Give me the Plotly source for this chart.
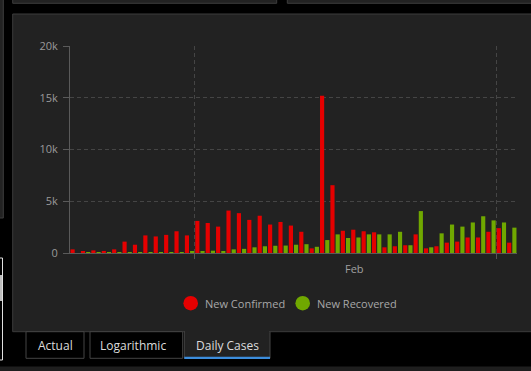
import pandas as pd
import plotly.graph_objects as go

# ---------------- data ----------------
start_date = "2020-01-20"
n_days = 43
series_names = ["New Confirmed", "New Recovered"]
new_confirmed = [350, 150, 250, 200, 350, 1100, 800, 1700, 1600, 1750, 2100, 1700,
                 3100, 2900, 2550, 4100, 3850, 3200, 3600, 2750, 3000, 2650, 2050, 450,
                 15200, 6550, 2150, 2250, 2100, 2000, 550, 650, 750, 1800, 450, 650,
                 1000, 1100, 1500, 1500, 2050, 2400, 1000]
new_recovered = [0, 10, 10, 5, 10, 10, 30, 40, 50, 60, 60, 120,
                 130, 220, 150, 350, 400, 550, 650, 700, 720, 800, 850, 600,
                 1250, 1800, 1450, 1500, 1800, 1800, 1800, 2050, 750, 4050, 550, 1900,
                 2750, 2550, 2950, 3550, 3150, 2950, 2450]
y_tickvals = [0, 5000, 10000, 15000, 20000]
y_ticktext = ["0", "5k", "10k", "15k", "20k"]
x_gridvals = ["2020-02-01", "2020-03-01"]
month_label = "Feb"
month_label_pos = "2020-02-16 08:00"
tab_labels = ["Actual", "Logarithmic", "Daily Cases"]

dates = pd.date_range(start_date, periods=n_days, freq="D") + pd.Timedelta(hours=12)
x_end = (pd.Timestamp(start_date) + pd.Timedelta(days=n_days)).strftime("%Y-%m-%d")

# ---------------- geometry helpers ----------------
W, H = 531, 371
L, R, T, B = 70, 14, 46, 118
PW, PH = W - L - R, H - T - B


def px(x):
    return (x - L) / PW


def py(y):
    return (H - B - y) / PH


RED = "#e60000"
GREEN = "#70a800"
PANEL = "#222222"
BORDER = "#3c3c3c"
FONT = "Open Sans, Noto Sans, sans-serif"

fig = go.Figure()
fig.add_trace(go.Bar(x=dates, y=new_confirmed, name=series_names[0],
                     marker=dict(color=RED, line=dict(width=0))))
fig.add_trace(go.Bar(x=dates, y=new_recovered, name=series_names[1],
                     marker=dict(color=GREEN, line=dict(width=0))))

shapes = []


def rect(x0, y0, x1, y1, fill, line=None, lw=1):
    shapes.append(dict(type="rect", xref="paper", yref="paper", layer="below",
                       x0=px(x0), x1=px(x1), y0=py(y1), y1=py(y0),
                       fillcolor=fill,
                       line=dict(color=line if line else fill, width=lw if line else 0)))


# top partial panels
rect(12.7, -10, 276.7, 3.3, PANEL, BORDER)
rect(287.3, -10, 545, 3.3, PANEL, BORDER)
# left partial panel
rect(-10, -10, 3.3, 218, PANEL, BORDER)
# left white box
rect(-10, 258, 2.5, 360, "#000000", "#e0e0e0")
rect(-10, 275, 2.0, 301, "#bdbdbd")
# main panel
rect(12.7, 14, 545, 331.7, PANEL, BORDER)
# tabs
rect(26, 331.7, 84, 358.3, "#000000", "#444444")
rect(90, 331.7, 182.7, 358.3, "#000000", "#444444")
rect(184.3, 331.7, 270, 358.3, PANEL, "#444444")
rect(185, 330.6, 269.3, 333, PANEL)
rect(184.3, 356.8, 270, 358.9, "#3c8ddc")
# bottom strip
rect(-10, 366.5, 545, 380, "#1e1e1e")

# legend circles
for cx, col in [(190.7, RED), (302.7, GREEN)]:
    r = 7.3
    shapes.append(dict(type="circle", xref="paper", yref="paper", layer="above",
                       x0=px(cx - r), x1=px(cx + r), y0=py(303.2 + r), y1=py(303.2 - r),
                       fillcolor=col, line=dict(width=0)))

annotations = [
    dict(text=series_names[0], xref="paper", yref="paper", x=px(202.5), y=py(303.5),
         xanchor="left", yanchor="middle", showarrow=False,
         font=dict(family=FONT, size=11, color="#a8a8a8")),
    dict(text=series_names[1], xref="paper", yref="paper", x=px(314.8), y=py(303.5),
         xanchor="left", yanchor="middle", showarrow=False,
         font=dict(family=FONT, size=11, color="#a8a8a8")),
    dict(text=month_label, xref="x", yref="paper", x=month_label_pos, y=py(268),
         xanchor="center", yanchor="middle", showarrow=False,
         font=dict(family=FONT, size=11, color="#a0a0a0")),
]
for label, cx in zip(tab_labels, [55, 133.3, 227.3]):
    annotations.append(dict(text=label, xref="paper", yref="paper", x=px(cx), y=py(345),
                            xanchor="center", yanchor="middle", showarrow=False,
                            font=dict(family=FONT, size=12, color="#dcdcdc")))

fig.update_layout(
    width=W, height=H,
    margin=dict(l=L, r=R, t=T, b=B, pad=0),
    paper_bgcolor="#000000",
    plot_bgcolor="rgba(0,0,0,0)",
    barmode="group",
    bargap=0.0,
    bargroupgap=0.2,
    showlegend=False,
    font=dict(family=FONT, color="#a0a0a0", size=11),
    shapes=shapes,
    annotations=annotations,
    xaxis=dict(
        type="date",
        range=[start_date, x_end],
        tickvals=x_gridvals,
        ticktext=["", ""],
        ticks="outside", ticklen=5, tickcolor="#555555",
        showgrid=True, gridcolor="#454545", griddash="4px,3px", gridwidth=1,
        showline=True, linecolor="#5a5a5a", linewidth=1,
        zeroline=False,
        fixedrange=True,
    ),
    yaxis=dict(
        range=[0, 20000],
        tickvals=y_tickvals,
        ticktext=y_ticktext,
        ticks="outside", ticklen=6, tickcolor="#5a5a5a",
        ticklabelstandoff=3,
        tickfont=dict(family=FONT, size=11, color="#9a9a9a"),
        showgrid=True, gridcolor="#454545", griddash="4px,3px", gridwidth=1,
        showline=True, linecolor="#5a5a5a", linewidth=1,
        zeroline=False,
        fixedrange=True,
    ),
)

fig.write_html("out.html", config={"displayModeBar": False},
               post_script="document.body.style.margin='0';document.body.style.overflow='hidden';document.body.style.background='#000';")
